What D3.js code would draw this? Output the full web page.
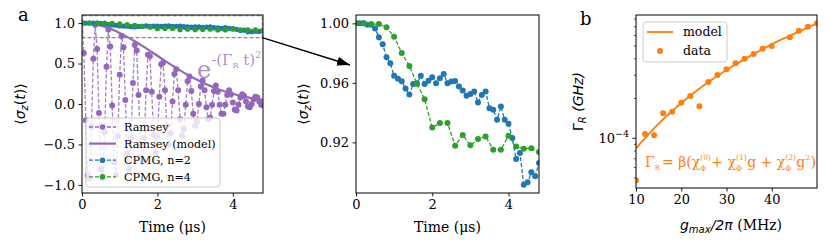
<!DOCTYPE html>
<html>
<head>
<meta charset="utf-8">
<script src="https://cdn.jsdelivr.net/npm/d3@7"></script>
<style>
body { margin: 0; background: #fff; }
svg text { font-family: "DejaVu Serif", serif; fill: #000; white-space: pre; }
.math { font-family: "DejaVu Sans", sans-serif; }
</style>
</head>
<body>
<div id="chart"></div>
<script>
const width = 830
const height = 252

// Data
const ramseyStep = 0.05
const ramseyValues = [1.00, 0.63, -0.20, -0.88, -0.92, -0.28, 0.56, 0.98, 0.68, -0.11,
  -0.81, -0.92, -0.35, 0.46, 0.92, 0.71, -0.02, -0.72, -0.88, -0.40,
  0.36, 0.84, 0.70, 0.05, -0.61, -0.81, -0.42, 0.26, 0.73, 0.66,
  0.11, -0.49, -0.72, -0.42, 0.17, 0.61, 0.59, 0.15, -0.38, -0.61,
  -0.40, 0.09, 0.49, 0.51, 0.17, -0.27, -0.50, -0.36, 0.03, 0.37,
  0.43, 0.17, -0.19, -0.39, -0.31, -0.01, 0.28, 0.34, 0.16, -0.12,
  -0.27, -0.22, 0.00, 0.22, 0.29, 0.17, -0.04, -0.19, -0.17, -0.01,
  0.16, 0.23, 0.15, -0.01, -0.12, -0.12, -0.01, 0.11, 0.17, 0.12,
  0.02, -0.07, -0.08, -0.01, 0.08, 0.12, 0.10, 0.03, -0.03, -0.04,
  0.00, 0.06, 0.09, 0.08, 0.03, -0.01, -0.02]
const ramseyModelStep = 0.2
const ramseyModel = [1.0, 0.995, 0.979, 0.954, 0.920, 0.878, 0.830, 0.776, 0.718, 0.657,
  0.596, 0.534, 0.474, 0.416, 0.362, 0.312, 0.265, 0.224, 0.186, 0.154,
  0.126, 0.102, 0.081, 0.064, 0.050]
const cpmg2Step = 0.1
const cpmg2Values = [1.000, 1.000, 1.000, 0.999, 0.999, 0.9966, 0.9906, 0.9859, 0.9772, 0.9732,
  0.9647, 0.9627, 0.9611, 0.9562, 0.9521, 0.9593, 0.9598, 0.9647, 0.9593, 0.9615,
  0.9638, 0.9598, 0.9631, 0.9660, 0.9598, 0.9609, 0.9613, 0.9575, 0.9548, 0.9513,
  0.9526, 0.9542, 0.9468, 0.9519, 0.9542, 0.9430, 0.9419, 0.9352, 0.9441, 0.9352,
  0.9325, 0.9229, 0.9088, 0.9129, 0.8916, 0.8932, 0.8999, 0.8972, 0.9062]
const cpmg4Step = 0.2
const cpmg4Values = [1.000, 1.000, 0.9995, 0.9995, 0.9973, 0.9910, 0.9800, 0.9714, 0.9593, 0.9490,
  0.9300, 0.9330, 0.9330, 0.9178, 0.9250, 0.9180, 0.9222, 0.9240, 0.9151, 0.9151,
  0.9245, 0.9173, 0.9157, 0.9160, 0.9135]

const gData = [10, 12, 14, 16, 18, 20, 22, 24, 26, 28, 30, 32, 34, 36, 38, 40, 44, 46, 48, 50]
const gammaData = [4.81e-5, 1.078e-4, 1.054e-4, 1.546e-4, 1.591e-4, 1.862e-4, 2.09e-4, 1.747e-4, 2.67e-4, 3.02e-4,
  3.33e-4, 3.70e-4, 4.01e-4, 4.35e-4, 4.77e-4, 5.0e-4, 5.82e-4, 6.53e-4, 7.0e-4, 7.43e-4]
const gModel = [10, 15, 20, 25, 30, 35, 40, 45, 50]
const gammaModel = [8.4e-5, 1.29e-4, 1.85e-4, 2.52e-4, 3.29e-4, 4.16e-4, 5.15e-4, 6.2e-4, 7.43e-4]

const xTicksA = [0, 2, 4]
const yTicksA = [-1, -0.5, 0, 0.5, 1]
const yTicksInset = [0.92, 0.96, 1.00]
const xTicksB = [10, 20, 30, 40]
const yMinorTicksB = [5e-5, 6e-5, 7e-5, 8e-5, 9e-5, 2e-4, 3e-4, 4e-4, 5e-4, 6e-4, 7e-4, 8e-4]

const purple = "#9467bd", blue = "#1f77b4", green = "#2ca02c", orange = "#ff7f0e"

const svg = d3.select("div#chart").append("svg").attr("width", width).attr("height", height)
svg.append("rect").attr("width", width).attr("height", height).attr("fill", "#fff")
const defs = svg.append("defs")

// Panels
const boxA = {left: 82, right: 263, top: 15, bottom: 193}
const boxI = {left: 356, right: 539, top: 15, bottom: 193}
const boxB = {left: 636, right: 817, top: 15, bottom: 188}

const xA = d3.scaleLinear().domain([0, 4.8]).range([boxA.left, boxA.right])
const yA = d3.scaleLinear().domain([-1.1, 1.1]).range([boxA.bottom, boxA.top])
const xI = d3.scaleLinear().domain([0, 4.8]).range([boxI.left, boxI.right])
const yI = d3.scaleLinear().domain([0.886, 1.0056]).range([boxI.bottom, boxI.top])
const xB = d3.scaleLinear().domain([10, 50]).range([boxB.left, boxB.right])
const yB = d3.scaleLog().domain([4.2e-5, 8.59e-4]).range([boxB.bottom, boxB.top])

function clipFor(id, box) {
    defs.append("clipPath").attr("id", id).append("rect")
        .attr("x", box.left).attr("y", box.top)
        .attr("width", box.right - box.left).attr("height", box.bottom - box.top)
    return svg.append("g").attr("clip-path", `url(#${id})`)
}

function series(g, x, y, values, step, color, opts) {
    const pts = values.map((v, i) => [i * step, v])
    if (opts.line) {
        g.append("path").datum(pts)
            .attr("d", d3.line().x(d => x(d[0])).y(d => y(d[1])))
            .attr("fill", "none").attr("stroke", color)
            .attr("stroke-width", opts.lw || 1.3)
            .attr("stroke-opacity", opts.lineOpacity || 1)
            .attr("stroke-dasharray", "4,2")
    }
    g.append("g").selectAll("circle").data(pts).join("circle")
        .attr("cx", d => x(d[0])).attr("cy", d => y(d[1]))
        .attr("r", opts.r || 2.8).attr("fill", color)
}

function frame(box) {
    svg.append("rect").attr("x", box.left).attr("y", box.top)
        .attr("width", box.right - box.left).attr("height", box.bottom - box.top)
        .attr("fill", "none").attr("stroke", "#000").attr("stroke-width", 1)
}

function axis(gen, transform) {
    const g = svg.append("g").attr("transform", transform).call(gen)
    g.select(".domain").remove()
    g.attr("font-family", "DejaVu Serif").attr("font-size", 13)
    g.selectAll(".tick line").attr("stroke-width", 0.9)
    return g
}

// ---------- Panel a ----------
const plotA = clipFor("clipA", boxA)
series(plotA, xA, yA, ramseyValues, ramseyStep, purple, {line: true, lineOpacity: 0.85, lw: 1.3, r: 3})
plotA.append("path").datum(ramseyModel.map((v, i) => [i * ramseyModelStep, v]))
    .attr("d", d3.line().curve(d3.curveMonotoneX).x(d => xA(d[0])).y(d => yA(d[1])))
    .attr("fill", "none").attr("stroke", purple).attr("stroke-width", 2.2)
series(plotA, xA, yA, cpmg2Values, cpmg2Step, blue, {line: true, r: 2.6})
series(plotA, xA, yA, cpmg4Values, cpmg4Step, green, {line: true, r: 2.6})

// zoom box
svg.append("rect")
    .attr("x", xA(0.02)).attr("y", yA(1.09))
    .attr("width", xA(4.78) - xA(0.02)).attr("height", yA(0.82) - yA(1.09))
    .attr("fill", "none").attr("stroke", "#888").attr("stroke-width", 1.1)
    .attr("stroke-dasharray", "4,2")

// exponent annotation
const ann = svg.append("text").attr("x", 197).attr("y", 78)
    .style("fill", purple).attr("fill-opacity", 0.75)
ann.append("tspan").attr("font-size", 24).text("e")
ann.append("tspan").attr("font-size", 15).attr("dy", -13).text("-(Γ")
ann.append("tspan").attr("font-size", 8).attr("dy", 3).text("R")
ann.append("tspan").attr("font-size", 15).attr("dy", -3).text(" t)")
ann.append("tspan").attr("font-size", 9).attr("dy", -7).text("2")

frame(boxA)
axis(d3.axisBottom(xA).tickValues(xTicksA).tickFormat(d3.format("d")).tickSize(3.5).tickPadding(3.5),
    `translate(0,${boxA.bottom})`)
axis(d3.axisLeft(yA).tickValues(yTicksA).tickFormat(d3.format(".1f")).tickSize(3.5).tickPadding(3.5),
    `translate(${boxA.left},0)`)

// legend a
const legA = svg.append("g")
legA.append("rect").attr("x", 86).attr("y", 118).attr("width", 134).attr("height", 69).attr("rx", 3)
    .attr("fill", "#fff").attr("fill-opacity", 0.8).attr("stroke", "#ccc").attr("stroke-width", 1)
const legRows = [
    {label: "Ramsey", color: purple, dash: true, dot: true},
    {label: "Ramsey (model)", color: purple, dash: false, dot: false},
    {label: "CPMG, n=2", color: blue, dash: true, dot: true},
    {label: "CPMG, n=4", color: green, dash: true, dot: true}
]
legRows.forEach((row, i) => {
    const cy = 127 + i * 16.6
    legA.append("line").attr("x1", 89).attr("x2", 116).attr("y1", cy).attr("y2", cy)
        .attr("stroke", row.color).attr("stroke-width", row.dash ? 1.3 : 2.2)
        .attr("stroke-dasharray", row.dash ? "4,2" : null)
    if (row.dot) legA.append("circle").attr("cx", 102.5).attr("cy", cy).attr("r", 2.8).attr("fill", row.color)
    legA.append("text").attr("x", 124).attr("y", cy + 4).attr("font-size", 11.2).text(row.label)
})

function sigmaLabel(x, y) {
    const t = svg.append("text").attr("class", "math")
        .attr("transform", `translate(${x},${y}) rotate(-90)`)
        .attr("text-anchor", "middle").attr("font-size", 14)
    t.append("tspan").text("⟨")
    t.append("tspan").attr("font-style", "italic").text("σ")
    t.append("tspan").attr("font-style", "italic").attr("font-size", 10).attr("dy", 3).text("z")
    t.append("tspan").attr("dy", -3).text("(")
    t.append("tspan").attr("font-style", "italic").text("t")
    t.append("tspan").text(")⟩")
}
sigmaLabel(25, (boxA.top + boxA.bottom) / 2)
svg.append("text").attr("x", (boxA.left + boxA.right) / 2).attr("y", 232)
    .attr("text-anchor", "middle").attr("font-size", 14).text("Time (μs)")
svg.append("text").attr("x", 18).attr("y", 21).attr("font-size", 18).text("a")

// ---------- Inset ----------
const plotI = clipFor("clipI", boxI)
series(plotI, xI, yI, cpmg2Values, cpmg2Step, blue, {line: true, r: 3})
series(plotI, xI, yI, cpmg4Values, cpmg4Step, green, {line: true, r: 3})
frame(boxI)
axis(d3.axisBottom(xI).tickValues(xTicksA).tickFormat(d3.format("d")).tickSize(3.5).tickPadding(3.5),
    `translate(0,${boxI.bottom})`)
axis(d3.axisLeft(yI).tickValues(yTicksInset).tickFormat(d3.format(".2f")).tickSize(3.5).tickPadding(3.5),
    `translate(${boxI.left},0)`)
sigmaLabel(308, (boxI.top + boxI.bottom) / 2)
svg.append("text").attr("x", (boxI.left + boxI.right) / 2).attr("y", 232)
    .attr("text-anchor", "middle").attr("font-size", 14).text("Time (μs)")

// arrow from zoom box to inset
defs.append("marker").attr("id", "head").attr("markerUnits", "userSpaceOnUse")
    .attr("markerWidth", 13).attr("markerHeight", 9).attr("refX", 13).attr("refY", 4.5)
    .attr("orient", "auto")
    .append("path").attr("d", "M0,0L13,4.5L0,9Z").attr("fill", "#000")
svg.append("line").attr("x1", xA(4.78)).attr("y1", yA(0.82)).attr("x2", 350).attr("y2", 65)
    .attr("stroke", "#000").attr("stroke-width", 1.5).attr("marker-end", "url(#head)")

// ---------- Panel b ----------
const plotB = clipFor("clipB", boxB)
plotB.append("path").datum(gModel.map((g, i) => [g, gammaModel[i]]))
    .attr("d", d3.line().curve(d3.curveMonotoneX).x(d => xB(d[0])).y(d => yB(d[1])))
    .attr("fill", "none").attr("stroke", orange).attr("stroke-width", 1.9)
plotB.append("g").selectAll("circle").data(gData).join("circle")
    .attr("cx", d => xB(d)).attr("cy", (d, i) => yB(gammaData[i]))
    .attr("r", 3).attr("fill", orange)
frame(boxB)
axis(d3.axisBottom(xB).tickValues(xTicksB).tickFormat(d3.format("d")).tickSize(3.5).tickPadding(3.5),
    `translate(0,${boxB.bottom})`)
const yAxB = svg.append("g")
yAxB.append("line").attr("x1", boxB.left - 3.5).attr("x2", boxB.left)
    .attr("y1", yB(1e-4)).attr("y2", yB(1e-4)).attr("stroke", "#000").attr("stroke-width", 0.9)
yAxB.selectAll("line.minor").data(yMinorTicksB).join("line").attr("class", "minor")
    .attr("x1", boxB.left - 2).attr("x2", boxB.left)
    .attr("y1", d => yB(d)).attr("y2", d => yB(d)).attr("stroke", "#000").attr("stroke-width", 0.7)
const lab4 = yAxB.append("text").attr("x", 629).attr("y", yB(1e-4) + 4.8)
    .attr("text-anchor", "end").attr("font-size", 13)
lab4.append("tspan").text("10")
lab4.append("tspan").attr("font-size", 9.5).attr("dy", -6).text("−4")

// y label
const ylB = svg.append("text").attr("class", "math")
    .attr("transform", `translate(583,${(boxB.top + boxB.bottom) / 2}) rotate(-90)`)
    .attr("text-anchor", "middle").attr("font-size", 14)
ylB.append("tspan").text("Γ")
ylB.append("tspan").attr("font-style", "italic").attr("font-size", 10).attr("dy", 3).text("R")
ylB.append("tspan").attr("font-style", "italic").attr("dy", -3).text(" (GHz)")

// x label
const xlB = svg.append("text").attr("x", 731).attr("y", 230).attr("text-anchor", "middle").attr("font-size", 14)
xlB.append("tspan").attr("class", "math").attr("font-style", "italic").text("g")
xlB.append("tspan").attr("class", "math").attr("font-style", "italic").attr("font-size", 10).attr("dy", 3).text("max")
xlB.append("tspan").attr("class", "math").attr("font-style", "italic").attr("dy", -3).text("/2π")
xlB.append("tspan").text(" (MHz)")

// legend b
const legB = svg.append("g")
legB.append("rect").attr("x", 643).attr("y", 22).attr("width", 84).attr("height", 40).attr("rx", 3)
    .attr("fill", "#fff").attr("fill-opacity", 0.8).attr("stroke", "#ccc").attr("stroke-width", 1)
legB.append("line").attr("x1", 647).attr("x2", 673).attr("y1", 32).attr("y2", 32)
    .attr("stroke", orange).attr("stroke-width", 1.9)
legB.append("text").attr("x", 683).attr("y", 36).attr("font-size", 12.5).text("model")
legB.append("circle").attr("cx", 660).attr("cy", 51).attr("r", 3).attr("fill", orange)
legB.append("text").attr("x", 683).attr("y", 55).attr("font-size", 12.5).text("data")

// formula, laid out piece by piece
const eqBase = 167
const nb = "\u00a0"
let eqX = 645
function eqText(txt, size, dy) {
    const t = svg.append("text").attr("x", eqX).attr("y", eqBase + dy)
        .attr("font-size", size).style("fill", orange).text(txt)
    return t.node().getComputedTextLength()
}
function eqPiece(txt) { eqX += eqText(txt, 14, 0) }
function eqChi(sup) {
    eqPiece("χ")
    const w1 = eqText(sup, 7.5, -7)
    const w2 = eqText("Φ", 7.5, 4)
    eqX += Math.max(w1, w2) + 0.5
}
eqPiece("Γ")
eqX += eqText("R", 7, 3) + 2
eqPiece(`=${nb}β(`)
eqChi("(0)")
eqPiece(`+${nb}`)
eqChi("(1)")
eqPiece(`g${nb}+${nb}`)
eqChi("(2)")
eqPiece("g")
eqX += eqText("2", 8, -7)
eqPiece(")")

svg.append("text").attr("x", 580).attr("y", 25).attr("font-size", 18).text("b")
</script>
</body>
</html>
